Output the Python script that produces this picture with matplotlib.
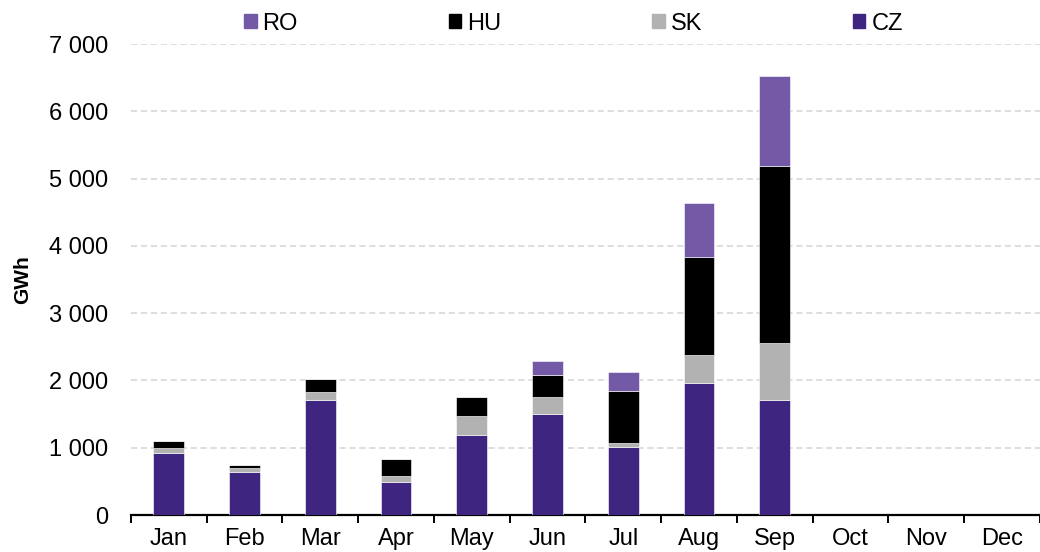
import numpy as np
import matplotlib.pyplot as plt
from matplotlib.ticker import FuncFormatter, FixedLocator
from matplotlib.patches import Patch

plt.rcParams['font.family'] = ['Liberation Sans', 'DejaVu Sans']

#Monthly volumes by country (GWh)
months = ["Jan", "Feb", "Mar", "Apr", "May", "Jun", "Jul", "Aug", "Sep", "Oct", "Nov", "Dec"]
cz = [926, 640, 1713, 492, 1186, 1504, 1015, 1963, 1714, 0, 0, 0]
sk = [64, 54, 119, 84, 281, 252, 55, 416, 839, 0, 0, 0]
hu = [113, 44, 192, 261, 286, 327, 769, 1454, 2634, 0, 0, 0]
ro = [0, 0, 0, 0, 0, 203, 292, 804, 1344, 0, 0, 0]

series = [("CZ", cz, "#3D2580"), ("SK", sk, "#B2B2B2"), ("HU", hu, "#000000"), ("RO", ro, "#7459A6")]

fig = plt.figure(figsize=(10.4, 5.52), dpi=100)
ax = fig.add_axes([0.1257, 0.067, 0.8743, 0.853])

x = np.arange(len(months))
bottom = np.zeros(len(months))
for name, vals, col in series:
    vals = np.array(vals, dtype=float)
    ax.bar(x, vals, width=0.405, bottom=bottom, color=col, edgecolor="white",
           linewidth=0.4, zorder=3)
    bottom += vals

ax.set_xlim(-0.5, 11.5)
ax.set_ylim(0, 7000)
ax.set_yticks(np.arange(0, 7001, 1000))
ax.yaxis.set_major_formatter(FuncFormatter(lambda v, p: f"{int(v):,}".replace(",", " ")))
ax.yaxis.grid(True, color="#D4D4D4", linestyle=(0, (4, 2.5)), linewidth=1.1, zorder=0)

ax.set_xticks(x)
ax.set_xticklabels(months)
ax.xaxis.set_minor_locator(FixedLocator(np.arange(-0.5, 12, 1)))
ax.tick_params(axis="x", which="major", length=0, labelsize=17, pad=9)
ax.tick_params(axis="x", which="minor", length=6, width=1.4, color="black")
ax.tick_params(axis="y", length=0, labelsize=17, pad=16)

for s in ["left", "right", "top"]:
    ax.spines[s].set_visible(False)
ax.spines["bottom"].set_linewidth(1.6)

ax.set_ylabel("GWh", fontsize=15, fontweight="bold", labelpad=12)

handles = [Patch(color=c) for _, _, c in series[::-1]]
labels = [n for n, _, _ in series[::-1]]
fig.legend(handles, labels, loc="upper left", bbox_to_anchor=(0.235, 0.977), ncol=4,
           frameon=False, fontsize=17, handlelength=0.52, handleheight=0.52,
           handletextpad=0.25, columnspacing=6.4, borderpad=0, borderaxespad=0)

fig.savefig("out.png", dpi=100)
